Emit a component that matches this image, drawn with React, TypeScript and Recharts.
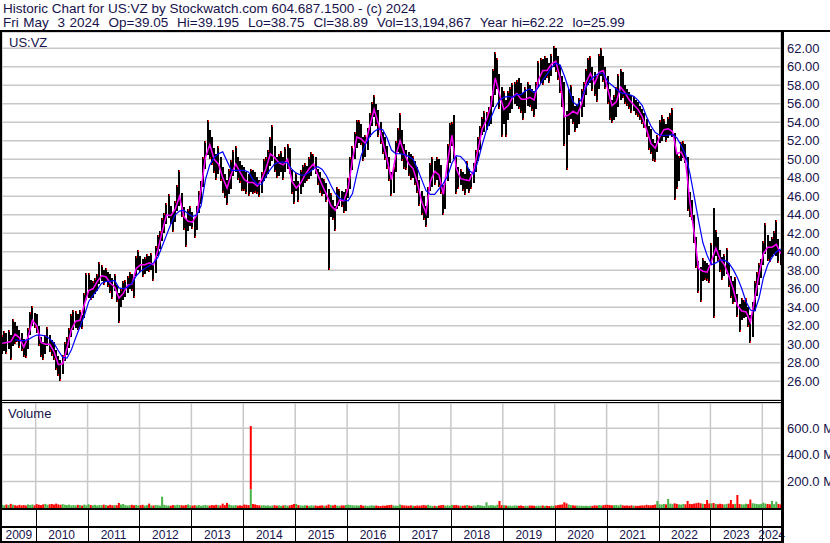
import React from 'react';
import { ComposedChart, Bar, Line, XAxis, YAxis, CartesianGrid } from 'recharts';

// ---------------------------------------------------------------------------
// Stockwatch style historic chart: US:VZ, half-monthly price ranges with a
// fast (magenta) and slow (blue) moving average, volume panel underneath.
// ---------------------------------------------------------------------------

const title = 'Historic Chart for US:VZ by Stockwatch.com 604.687.1500 - (c) 2024';
const quote = 'Fri May  3 2024  Op=39.05  Hi=39.195  Lo=38.75  Cl=38.89  Vol=13,194,867  Year hi=62.22  lo=25.99';
const symbol = 'US:VZ';

const years = [2009, 2010, 2011, 2012, 2013, 2014, 2015, 2016, 2017, 2018, 2019, 2020, 2021, 2022, 2023, 2024];
const yearTicks = [2010, 2011, 2012, 2013, 2014, 2015, 2016, 2017, 2018, 2019, 2020, 2021, 2022, 2023, 2024];
const priceTicks = [26, 28, 30, 32, 34, 36, 38, 40, 42, 44, 46, 48, 50, 52, 54, 56, 58, 60, 62];
const volumeTicks = [200, 400, 600];

// half-month [low, high]; 2009 starts with the first half of May
const range2009 = [[28.9, 31.0], [29.3, 31.4], [29.0, 31.2], [29.5, 31.6], [28.3, 31.0], [29.8, 32.7], [30.0, 32.4], [30.3, 32.0], [29.6, 31.5], [29.3, 31.2], [28.6, 30.6], [28.5, 30.4], [29.5, 31.8], [31.0, 33.5], [32.0, 34.1], [31.8, 33.4]];
const range2010 = [[31.2, 33.3], [29.8, 32.0], [28.6, 30.8], [28.3, 30.2], [29.0, 31.0], [29.8, 31.9], [29.2, 31.0], [28.7, 30.5], [28.3, 30.2], [27.2, 29.4], [26.6, 28.7], [26.0, 28.3], [26.8, 28.8], [28.2, 30.2], [28.8, 30.8], [29.6, 31.8], [30.8, 33.3], [31.5, 33.7], [31.8, 33.6], [31.6, 33.3], [31.9, 33.7], [31.7, 33.2], [32.8, 35.5], [34.8, 37.7]];
const range2011 = [[35.0, 37.7], [34.8, 36.9], [35.0, 36.8], [35.4, 37.2], [35.8, 37.6], [36.5, 38.9], [36.8, 38.6], [36.4, 38.0], [36.7, 38.3], [36.2, 37.8], [35.6, 37.6], [34.9, 37.2], [35.8, 37.6], [34.6, 36.4], [32.3, 35.6], [34.0, 36.0], [34.8, 36.8], [35.1, 37.0], [35.6, 37.4], [36.0, 37.8], [35.8, 37.6], [35.0, 37.3], [37.4, 39.6], [38.0, 40.2]];
const range2012 = [[37.8, 39.6], [37.3, 39.2], [37.6, 39.4], [37.9, 39.8], [37.8, 39.5], [38.0, 39.9], [36.8, 38.7], [37.7, 40.6], [39.6, 41.8], [40.3, 42.2], [41.2, 43.6], [42.0, 44.2], [43.0, 45.3], [43.6, 46.3], [43.0, 45.0], [42.1, 44.3], [43.2, 45.5], [44.4, 47.2], [45.0, 48.8], [43.8, 46.4], [42.4, 44.8], [40.5, 43.5], [42.2, 44.6], [42.8, 44.9]];
const range2013 = [[42.5, 44.3], [41.5, 43.6], [42.4, 44.9], [44.2, 46.6], [45.2, 47.6], [47.0, 50.2], [49.0, 52.0], [50.5, 54.2], [50.0, 53.2], [49.4, 52.4], [48.5, 51.2], [47.8, 50.6], [48.4, 51.4], [47.6, 50.3], [46.4, 49.2], [45.8, 48.4], [45.1, 47.8], [46.3, 49.0], [46.8, 49.9], [48.2, 51.0], [48.6, 51.4], [47.8, 50.2], [47.4, 49.8], [46.6, 49.4]];
const range2014 = [[46.6, 49.2], [46.2, 48.6], [46.0, 48.4], [46.5, 49.0], [46.3, 48.8], [46.4, 48.6], [46.2, 48.1], [45.9, 47.8], [46.4, 48.6], [47.6, 50.0], [48.0, 50.3], [48.4, 51.0], [49.3, 52.4], [49.8, 53.7], [48.6, 51.4], [48.0, 50.3], [48.2, 50.6], [48.6, 50.9], [47.8, 50.2], [48.6, 51.3], [49.0, 51.7], [48.4, 51.2], [46.2, 48.8], [45.2, 47.6]];
const range2015 = [[46.6, 48.5], [45.4, 47.6], [46.2, 48.8], [47.0, 49.4], [47.4, 49.6], [47.6, 49.3], [47.9, 50.2], [48.2, 50.8], [48.8, 50.6], [48.4, 50.2], [47.2, 49.0], [46.4, 48.6], [46.0, 48.0], [46.2, 47.9], [45.4, 47.4], [38.0, 46.8], [43.8, 46.4], [43.4, 45.6], [42.2, 45.0], [44.6, 47.0], [44.9, 46.8], [44.8, 46.6], [44.2, 46.5], [44.4, 46.8]];
const range2016 = [[45.8, 48.0], [46.8, 50.2], [48.8, 51.4], [50.0, 53.0], [51.2, 54.2], [51.8, 54.3], [51.5, 53.8], [49.8, 52.4], [50.2, 52.6], [51.0, 53.4], [52.4, 55.0], [53.6, 56.2], [54.6, 57.0], [53.6, 56.0], [52.4, 55.3], [51.6, 54.0], [50.6, 53.0], [49.9, 52.4], [49.0, 51.4], [47.6, 50.3], [46.0, 48.6], [46.4, 49.2], [48.6, 52.0], [50.8, 53.4]];
const range2017 = [[50.6, 55.0], [49.8, 53.2], [49.0, 51.6], [48.8, 51.0], [48.2, 50.8], [47.8, 50.6], [48.0, 50.4], [47.2, 49.8], [46.4, 49.2], [45.0, 47.8], [44.0, 46.6], [43.4, 46.0], [42.7, 45.0], [43.6, 47.0], [46.6, 49.6], [47.0, 50.3], [47.2, 49.8], [47.8, 50.2], [47.0, 50.0], [46.2, 49.4], [44.0, 47.2], [44.6, 47.6], [47.6, 51.6], [49.6, 53.9]];
const range2018 = [[51.4, 54.0], [50.0, 54.8], [46.3, 50.3], [46.8, 49.2], [47.2, 48.9], [46.6, 48.6], [46.1, 48.4], [46.8, 49.8], [46.4, 48.9], [46.8, 48.4], [47.4, 49.6], [48.6, 51.0], [49.8, 52.4], [51.0, 53.6], [52.6, 54.6], [53.0, 55.2], [53.2, 55.1], [53.6, 55.6], [53.8, 56.8], [55.6, 59.8], [57.0, 61.6], [57.6, 61.0], [55.4, 59.2], [52.4, 57.8]];
const range2019 = [[53.8, 57.4], [52.4, 56.4], [54.2, 57.4], [55.0, 57.8], [55.4, 58.2], [56.0, 58.4], [55.8, 58.6], [55.4, 58.8], [55.0, 58.2], [54.2, 57.2], [55.0, 57.8], [55.8, 58.4], [55.6, 58.0], [55.2, 57.6], [54.6, 57.4], [55.4, 58.4], [57.8, 60.6], [58.2, 61.0], [58.0, 60.8], [58.6, 61.2], [58.8, 61.0], [58.2, 60.4], [59.0, 61.4], [60.0, 62.2]];
const range2020 = [[59.4, 62.0], [58.6, 61.2], [57.2, 60.2], [55.6, 59.0], [51.4, 58.4], [48.8, 55.2], [52.6, 57.6], [54.4, 58.0], [53.8, 56.8], [53.0, 55.8], [53.4, 56.0], [53.8, 56.6], [54.6, 57.6], [55.6, 58.4], [57.0, 59.8], [58.0, 61.0], [58.2, 61.2], [57.4, 60.0], [56.8, 59.4], [56.2, 59.0], [57.6, 61.4], [59.0, 62.0], [58.4, 61.2], [57.6, 60.0]];
const range2021 = [[56.0, 59.0], [54.2, 57.6], [53.9, 56.4], [54.2, 57.0], [54.6, 57.8], [55.6, 59.2], [56.4, 59.8], [56.6, 59.4], [56.0, 58.0], [55.8, 57.6], [55.4, 57.3], [55.0, 57.0], [55.2, 56.8], [54.8, 56.4], [54.6, 56.2], [54.2, 55.8], [53.8, 55.4], [53.4, 55.0], [52.4, 54.4], [51.0, 53.6], [50.6, 53.3], [49.8, 52.2], [49.7, 51.8], [50.8, 52.6]];
const range2022 = [[51.8, 54.2], [52.0, 54.8], [52.4, 54.4], [51.9, 53.8], [52.3, 54.6], [52.6, 55.0], [52.4, 55.5], [45.6, 52.8], [46.8, 50.6], [47.6, 50.4], [49.8, 51.9], [50.1, 52.0], [49.6, 51.6], [44.4, 50.2], [43.8, 46.5], [43.4, 45.6], [41.0, 44.0], [38.2, 41.6], [35.6, 39.0], [34.6, 38.4], [36.8, 39.3], [37.0, 39.0], [36.8, 38.8], [36.6, 38.6]];
const range2023 = [[38.6, 41.0], [32.8, 44.7], [39.6, 42.4], [39.0, 41.6], [37.8, 40.2], [37.0, 39.4], [37.4, 39.8], [37.6, 40.4], [36.2, 38.8], [35.0, 37.4], [34.4, 36.8], [34.6, 37.3], [33.0, 35.4], [31.3, 34.4], [32.6, 35.0], [32.8, 34.8], [33.0, 35.0], [31.9, 34.0], [30.1, 33.2], [30.8, 34.6], [33.6, 36.8], [35.2, 37.8], [36.4, 38.8], [37.2, 39.2]];
const range2024 = [[38.6, 41.2], [39.8, 43.1], [39.0, 41.8], [38.9, 41.2], [39.4, 41.6], [39.8, 42.2], [39.6, 43.4], [38.8, 41.4], [38.6, 40.2]];

// monthly fast moving average (magenta), May 2009 onwards
const fast2009 = [30.1, 30.2, 30.3, 31.1, 30.7, 29.7, 30.8, 32.6];
const fast2010 = [32.0, 30.2, 30.0, 30.0, 29.2, 27.8, 27.9, 29.6, 31.6, 32.5, 32.6, 34.3];
const fast2011 = [35.8, 36.0, 36.8, 37.4, 37.3, 36.6, 36.2, 35.0, 35.5, 36.4, 36.5, 38.2];
const fast2012 = [38.6, 38.6, 38.8, 38.6, 40.2, 42.2, 44.0, 43.9, 44.6, 46.0, 43.8, 43.3];
const fast2013 = [43.2, 44.0, 46.8, 50.2, 51.6, 50.0, 49.5, 48.0, 46.9, 48.4, 49.5, 48.6];
const fast2014 = [47.8, 47.5, 47.5, 47.1, 47.8, 49.0, 50.6, 50.2, 49.6, 49.4, 50.0, 47.6];
const fast2015 = [46.9, 47.4, 48.3, 49.0, 49.5, 48.3, 47.2, 46.2, 45.0, 44.5, 45.6, 45.5];
const fast2016 = [46.9, 50.0, 52.4, 52.2, 51.7, 53.6, 55.4, 53.8, 51.9, 50.0, 47.8, 50.4];
const fast2017 = [52.0, 50.6, 49.5, 49.0, 47.5, 45.4, 44.2, 47.6, 48.7, 48.3, 46.2, 49.8];
const fast2018 = [52.6, 49.0, 47.9, 47.8, 47.7, 48.8, 51.0, 53.3, 54.3, 55.8, 58.8, 57.0];
const fast2019 = [55.4, 55.8, 56.7, 57.1, 56.5, 56.5, 56.7, 56.4, 58.6, 59.6, 59.6, 60.3];
const fast2020 = [60.6, 58.8, 54.6, 54.8, 55.2, 54.9, 56.0, 58.3, 59.3, 58.2, 59.4, 59.6];
const fast2021 = [57.6, 55.8, 56.2, 57.8, 57.2, 56.4, 55.9, 55.4, 54.6, 53.2, 51.7, 51.2];
const fast2022 = [52.4, 53.2, 53.3, 53.0, 50.6, 50.8, 49.8, 45.4, 42.0, 38.2, 37.9, 37.8];
const fast2023 = [39.0, 40.4, 39.2, 38.6, 37.4, 36.0, 34.2, 33.6, 33.5, 32.4, 35.0, 37.6];
const fast2024 = [39.8, 40.5, 40.5, 40.8, 39.8];

// monthly slow moving average (blue), starts in August 2009
const slow2009 = [null, null, null, 30.5, 30.4, 30.4, 30.5, 30.8];
const slow2010 = [31.0, 31.0, 30.9, 30.6, 30.1, 29.3, 28.6, 28.5, 29.4, 30.7, 31.9, 33.1];
const slow2011 = [34.6, 35.3, 35.9, 36.6, 36.8, 36.8, 36.9, 36.1, 36.0, 36.2, 36.6, 37.4];
const slow2012 = [37.9, 38.2, 38.5, 38.8, 39.4, 40.6, 41.8, 43.0, 44.0, 44.4, 44.5, 44.1];
const slow2013 = [43.8, 44.0, 45.0, 47.8, 49.4, 50.2, 50.6, 50.8, 49.8, 48.8, 48.8, 48.8];
const slow2014 = [48.8, 48.6, 47.8, 47.3, 47.3, 48.2, 48.9, 49.5, 49.7, 49.7, 49.6, 48.9];
const slow2015 = [48.5, 48.3, 48.3, 48.6, 49.0, 49.2, 48.9, 48.2, 47.2, 46.3, 45.8, 45.6];
const slow2016 = [45.5, 46.3, 48.4, 50.4, 51.6, 52.5, 53.0, 53.3, 53.2, 52.3, 51.0, 50.6];
const slow2017 = [50.6, 50.5, 50.3, 50.0, 49.0, 47.8, 46.6, 46.2, 46.2, 46.8, 47.4, 48.2];
const slow2018 = [49.6, 50.4, 50.3, 49.8, 48.8, 48.4, 49.8, 51.6, 53.2, 54.5, 55.6, 56.4];
const slow2019 = [56.7, 56.8, 56.7, 57.0, 57.0, 57.4, 57.6, 57.2, 57.8, 58.6, 59.2, 59.9];
const slow2020 = [60.4, 60.2, 59.0, 57.6, 56.2, 55.8, 56.6, 57.8, 58.6, 59.0, 59.3, 59.3];
const slow2021 = [58.4, 58.0, 57.6, 57.2, 57.1, 57.0, 56.8, 56.4, 55.8, 54.6, 53.6, 52.9];
const slow2022 = [52.6, 52.6, 52.6, 52.7, 52.3, 51.5, 50.5, 48.5, 46.0, 43.4, 41.0, 39.6];
const slow2023 = [38.6, 38.8, 39.1, 39.1, 38.8, 38.1, 37.2, 36.0, 34.6, 33.7, 33.6, 35.0];
const slow2024 = [37.2, 38.6, 39.4, 40.0, 40.3];

// half-month volume in millions; a pair is [up part, total]
const vol2009 = [24, 20, 26, 22, 31, 25, 21, 18, 24, 20, 22, 19, 27, 23, 26, 20];
const vol2010 = [29, 25, 22, 27, 31, 24, 28, 30, 26, 33, 27, 24, 29, 25, 22, 26, 20, 23, 19, 24, 22, 18, 26, 21];
const vol2011 = [28, 22, 20, 24, 19, 23, 21, 25, 22, 18, 24, 20, 23, 21, 38, 26, 30, 22, 19, 21, 24, 20, 23, 19];
const vol2012 = [21, 24, 18, 22, 33, 20, 19, 23, 21, 18, 85, 24, 20, 19, 17, 22, 20, 24, 23, 21, 19, 22, 27, 20];
const vol2013 = [18, 21, 19, 22, 17, 20, 23, 19, 18, 22, 20, 24, 21, 19, 33, 22, 38, 26, 21, 19, 22, 18, 20, 17];
const vol2014 = [26, 24, 22, [141, 617], 30, 27, 22, 20, 19, 21, 18, 20, 17, 19, 21, 18, 20, 17, 19, 22, 18, 20, 24, 30];
const vol2015 = [31, 22, 20, 18, 21, 19, 17, 20, 18, 19, 16, 18, 20, 17, 19, 26, 22, 19, 24, 18, 17, 20, 19, 22];
const vol2016 = [25, 23, 21, 19, 20, 18, 22, 17, 19, 16, 18, 20, 17, 19, 16, 15, 18, 17, 20, 22, 24, 19, 18, 17];
const vol2017 = [26, 21, 19, 18, 17, 20, 18, 16, 19, 17, 20, 22, 19, 24, 18, 16, 17, 15, 19, 21, 23, 18, 20, 17];
const vol2018 = [24, 21, 23, 19, 18, 17, 19, 22, 18, 16, 19, 17, 23, 20, 18, 16, 43, 19, 22, 20, 18, 24, 53, 21];
const vol2019 = [22, 19, 17, 18, 16, 20, 18, 17, 19, 15, 17, 16, 19, 18, 17, 16, 18, 17, 19, 16, 17, 15, 18, 16];
const vol2020 = [19, 22, 24, 27, 43, 35, 26, 22, 20, 18, 19, 17, 18, 16, 17, 15, 18, 16, 20, 18, 22, 19, 21, 24];
const vol2021 = [24, 22, 20, 21, 23, 19, 25, 20, 18, 19, 17, 20, 18, 17, 16, 18, 20, 19, 24, 21, 20, 22, 26, 53];
const vol2022 = [28, 26, 30, 27, 68, 33, 29, 35, 31, 27, 26, 30, 28, 53, 31, 29, 33, 36, 40, 35, 32, 30, 60, 34];
const vol2023 = [35, 38, 30, 28, 32, 29, 27, 31, 33, 60, 29, 31, 98, 30, 28, 27, 32, 29, 64, 36, 33, 30, 28, 31];
const vol2024 = [40, 33, 30, 28, 53, 29, 48, 31, 27];

const ranges = [range2009, range2010, range2011, range2012, range2013, range2014, range2015, range2016, range2017, range2018, range2019, range2020, range2021, range2022, range2023, range2024];
const fastMa = [fast2009, fast2010, fast2011, fast2012, fast2013, fast2014, fast2015, fast2016, fast2017, fast2018, fast2019, fast2020, fast2021, fast2022, fast2023, fast2024];
const slowMa = [slow2009, slow2010, slow2011, slow2012, slow2013, slow2014, slow2015, slow2016, slow2017, slow2018, slow2019, slow2020, slow2021, slow2022, slow2023, slow2024];
const volumes: any[][] = [vol2009, vol2010, vol2011, vol2012, vol2013, vol2014, vol2015, vol2016, vol2017, vol2018, vol2019, vol2020, vol2021, vol2022, vol2023, vol2024];

// layout
const INK = '#16124c';
const FONT = '"Liberation Sans", Arial, Helvetica, sans-serif';
const GRID = '#c8c8c8';
const T0 = 2009.351;
const T1 = 2024.36;
const PLOT_LEFT = 2;
const PLOT_RIGHT = 781;
const PX_PER_YEAR = (PLOT_RIGHT - PLOT_LEFT) / (T1 - T0);

// one row per half month; monthly averages sit on the first half of the month
const rows: any[] = [];
let prevMid: number | null = null;
ranges.forEach((list, yi) => {
  const first = yi === 0 ? 8 : 0;
  list.forEach(([lo, hi], k) => {
    const slot = first + k;
    const mid = (lo + hi) / 2;
    const up = prevMid === null || mid >= prevMid;
    prevMid = mid;
    const v = volumes[yi][k];
    const [vg, vr] = Array.isArray(v) ? [v[0], v[1] - v[0]] : up ? [v, 0] : [0, v];
    const m = (slot - first) / 2;
    const monthRow = slot % 2 === 0;
    rows.push({
      t: years[yi] + (slot + 0.5) / 24,
      range: [lo, hi],
      up,
      vg,
      vr,
      fast: monthRow ? fastMa[yi][m] ?? null : null,
      slow: monthRow ? slowMa[yi][m] ?? null : null,
    });
  });
});

const PriceBar = (props: any) => {
  const { x, y, width, height, payload } = props;
  if (!payload || !payload.range || x == null || y == null) return null;
  const top = Math.min(y, y + height);
  const h = Math.max(Math.abs(height), 1);
  const markY = payload.up ? top : top + h - 2;
  return (
    <g shapeRendering="crispEdges">
      <rect x={x} y={top} width={width} height={h} fill="#000" />
      <rect x={x + width - 1} y={markY} width={1} height={2} fill="#ff0000" />
    </g>
  );
};

// single-line right axis label (no wrapping)
const SideLabel = (props: any) => {
  const { x, y, payload, fmt } = props;
  return (
    <text x={x} y={y} dy="0.355em" textAnchor="start" fontSize={13} fontFamily={FONT} fill={INK}>
      {fmt(payload.value)}
    </text>
  );
};

const YearTick = (props: any) => {
  const { x, y, payload } = props;
  const yr = payload.value as number;
  const next = Math.min(yr + 1, T1);
  const lx = Math.round(x) + 0.5;
  const label = { fontSize: 12, fill: INK, fontFamily: FONT, textAnchor: 'middle' as const };
  return (
    <g>
      <line x1={lx} x2={lx} y1={y + 2} y2={y + 34} stroke="#000" strokeWidth={1} />
      <text x={x + ((next - yr) * PX_PER_YEAR) / 2} y={y + 31} {...label}>{yr}</text>
      {yr === yearTicks[0] && (
        <text x={x - ((yr - T0) * PX_PER_YEAR) / 2} y={y + 31} {...label}>{yr - 1}</text>
      )}
    </g>
  );
};

const rule = (left: number, top: number, width: number, height: number) => (
  <div style={{ position: 'absolute', left, top, width, height, background: '#000' }} />
);

export default function App() {
  return (
    <div
      style={{
        position: 'absolute',
        left: 0,
        top: 0,
        width: 830,
        height: 543,
        background: '#fff',
        overflow: 'hidden',
        fontFamily: FONT,
        color: INK,
      }}
    >
      <div style={{ position: 'absolute', left: 3, top: 2, fontSize: 13.5, lineHeight: '13px', whiteSpace: 'pre' }}>{title}</div>
      <div style={{ position: 'absolute', left: 3, top: 16, fontSize: 13.5, lineHeight: '13px', whiteSpace: 'pre', wordSpacing: 0.7 }}>{quote}</div>

      {/* price panel */}
      <div style={{ position: 'absolute', left: 0, top: 32 }}>
        <ComposedChart width={830} height={368} data={rows} margin={{ top: 0, right: 0, bottom: 0, left: PLOT_LEFT }}>
          <CartesianGrid stroke={GRID} strokeWidth={1.5} />
          <XAxis
            dataKey="t"
            type="number"
            domain={[T0, T1]}
            ticks={yearTicks}
            interval={0}
            allowDataOverflow
            height={0}
            tick={false}
            axisLine={false}
            tickLine={false}
          />
          <YAxis
            orientation="right"
            width={49}
            domain={[23.98, 63.76]}
            ticks={priceTicks}
            interval={0}
            allowDataOverflow
            axisLine={false}
            tickLine={false}
            tickSize={0}
            tickMargin={6}
            tick={(p: any) => <SideLabel {...p} fmt={(v: number) => v.toFixed(2)} />}
          />
          <Bar dataKey="range" barSize={2} shape={PriceBar} isAnimationActive={false} />
          <Line dataKey="fast" type="linear" stroke="#ff00ff" strokeWidth={1.5} dot={false} connectNulls isAnimationActive={false} />
          <Line dataKey="slow" type="linear" stroke="#0000ff" strokeWidth={1.2} dot={false} connectNulls isAnimationActive={false} />
        </ComposedChart>
      </div>

      {/* volume panel and year axis */}
      <div style={{ position: 'absolute', left: 0, top: 403 }}>
        <ComposedChart width={830} height={140} data={rows} margin={{ top: 0, right: 0, bottom: 0, left: PLOT_LEFT }}>
          <CartesianGrid stroke={GRID} strokeWidth={1.5} />
          <XAxis
            dataKey="t"
            type="number"
            domain={[T0, T1]}
            ticks={yearTicks}
            interval={0}
            allowDataOverflow
            height={35}
            axisLine={false}
            tickLine={false}
            tickSize={0}
            tickMargin={0}
            tick={(p: any) => <YearTick {...p} />}
          />
          <YAxis
            orientation="right"
            width={49}
            domain={[0, 790.5]}
            ticks={volumeTicks}
            interval={0}
            allowDataOverflow
            axisLine={false}
            tickLine={false}
            tickSize={0}
            tickMargin={6}
            tick={(p: any) => <SideLabel {...p} fmt={(v: number) => `${v.toFixed(1)} M`} />}
          />
          <Bar dataKey="vg" stackId="v" fill="#47b347" barSize={2} isAnimationActive={false} />
          <Bar dataKey="vr" stackId="v" fill="#ff0000" barSize={2} isAnimationActive={false} />
        </ComposedChart>
      </div>

      <div style={{ position: 'absolute', left: 9, top: 36, fontSize: 13, lineHeight: '13px' }}>{symbol}</div>
      <div style={{ position: 'absolute', left: 8, top: 407, fontSize: 13, lineHeight: '13px' }}>Volume</div>

      {/* frame */}
      {rule(0, 30, 830, 2)}
      {rule(0, 30, 2, 513)}
      {rule(781, 30, 3, 513)}
      {rule(0, 400, 781, 1)}
      {rule(0, 402, 781, 1)}
      {rule(0, 508, 781, 2)}
      {rule(0, 526, 781, 2)}
      {rule(0, 541, 784, 2)}
    </div>
  );
}
